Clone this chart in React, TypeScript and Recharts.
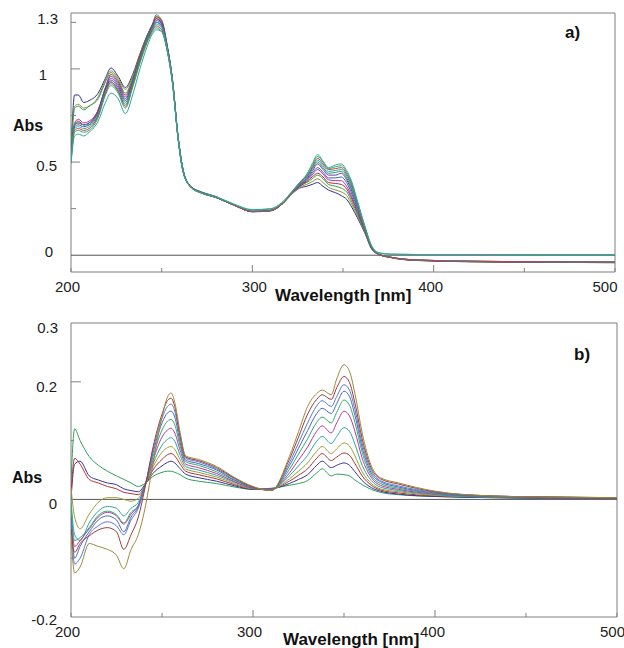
import React from 'react';
import { LineChart, Line, XAxis, YAxis, ReferenceLine, ReferenceArea } from 'recharts';

// ---------- Panel a) ----------
const wavelengthsA = [200, 202, 204, 207, 210, 215, 219, 222, 226, 230, 234, 238, 242, 245, 247, 250, 253, 256, 259, 262, 266, 272, 280, 290, 300, 310, 317, 322, 326, 330, 333, 336, 339, 342, 346, 349, 352, 355, 358, 362, 366, 370, 376, 390, 420, 460, 500];

const a1 = [0.55, 0.86, 0.86, 0.82, 0.83, 0.87, 0.95, 1.005, 0.96, 0.90, 0.97, 1.08, 1.18, 1.24, 1.27, 1.24, 1.12, 0.93, 0.63, 0.44, 0.37, 0.34, 0.315, 0.27, 0.233, 0.238, 0.28, 0.33, 0.36, 0.37, 0.38, 0.39, 0.37, 0.35, 0.335, 0.32, 0.3, 0.255, 0.2, 0.12, 0.03, 0.003, -0.012, -0.028, -0.035, -0.038, -0.04];
const a2 = [0.54, 0.80, 0.81, 0.79, 0.80, 0.85, 0.94, 0.99, 0.95, 0.89, 0.96, 1.08, 1.18, 1.24, 1.28, 1.25, 1.12, 0.93, 0.63, 0.44, 0.37, 0.338, 0.313, 0.27, 0.234, 0.238, 0.28, 0.33, 0.365, 0.38, 0.395, 0.41, 0.39, 0.365, 0.35, 0.34, 0.32, 0.27, 0.21, 0.125, 0.032, 0.004, -0.012, -0.028, -0.035, -0.038, -0.04];
const a3 = [0.53, 0.79, 0.80, 0.78, 0.80, 0.84, 0.93, 0.98, 0.94, 0.87, 0.95, 1.07, 1.18, 1.24, 1.29, 1.26, 1.13, 0.94, 0.64, 0.45, 0.37, 0.337, 0.312, 0.27, 0.234, 0.239, 0.28, 0.335, 0.37, 0.39, 0.41, 0.43, 0.41, 0.38, 0.37, 0.36, 0.34, 0.285, 0.22, 0.13, 0.034, 0.004, -0.011, -0.027, -0.034, -0.037, -0.039];
const a4 = [0.52, 0.70, 0.72, 0.70, 0.71, 0.78, 0.90, 0.97, 0.93, 0.86, 0.94, 1.07, 1.17, 1.24, 1.28, 1.26, 1.13, 0.94, 0.64, 0.45, 0.37, 0.336, 0.31, 0.268, 0.234, 0.24, 0.28, 0.335, 0.37, 0.395, 0.42, 0.44, 0.42, 0.39, 0.385, 0.38, 0.355, 0.3, 0.23, 0.133, 0.035, 0.004, -0.011, -0.027, -0.034, -0.037, -0.039];
const a5 = [0.53, 0.71, 0.73, 0.71, 0.72, 0.78, 0.90, 0.96, 0.92, 0.85, 0.93, 1.06, 1.17, 1.23, 1.27, 1.25, 1.12, 0.94, 0.64, 0.45, 0.368, 0.335, 0.31, 0.268, 0.235, 0.24, 0.28, 0.335, 0.375, 0.4, 0.43, 0.46, 0.435, 0.405, 0.4, 0.4, 0.37, 0.31, 0.24, 0.137, 0.036, 0.004, -0.011, -0.026, -0.033, -0.036, -0.038];
const a6 = [0.52, 0.70, 0.71, 0.70, 0.71, 0.77, 0.89, 0.95, 0.91, 0.84, 0.93, 1.06, 1.17, 1.23, 1.26, 1.24, 1.12, 0.93, 0.64, 0.45, 0.368, 0.335, 0.31, 0.268, 0.235, 0.24, 0.28, 0.34, 0.375, 0.405, 0.44, 0.47, 0.445, 0.415, 0.415, 0.42, 0.39, 0.325, 0.25, 0.14, 0.037, 0.005, -0.01, -0.026, -0.033, -0.036, -0.038];
const a7 = [0.51, 0.69, 0.70, 0.69, 0.70, 0.77, 0.89, 0.94, 0.90, 0.83, 0.92, 1.05, 1.16, 1.22, 1.25, 1.23, 1.11, 0.93, 0.64, 0.45, 0.367, 0.334, 0.31, 0.268, 0.235, 0.24, 0.28, 0.34, 0.38, 0.41, 0.45, 0.49, 0.46, 0.43, 0.43, 0.44, 0.405, 0.34, 0.26, 0.143, 0.038, 0.005, -0.01, -0.025, -0.032, -0.035, -0.037];
const a8 = [0.52, 0.70, 0.71, 0.70, 0.70, 0.76, 0.88, 0.93, 0.89, 0.82, 0.92, 1.05, 1.16, 1.22, 1.25, 1.23, 1.11, 0.93, 0.64, 0.45, 0.367, 0.334, 0.31, 0.268, 0.236, 0.241, 0.28, 0.34, 0.38, 0.415, 0.46, 0.50, 0.47, 0.44, 0.445, 0.45, 0.415, 0.35, 0.265, 0.145, 0.039, 0.005, -0.01, -0.025, -0.032, -0.035, -0.037];
const a9 = [0.51, 0.68, 0.69, 0.68, 0.69, 0.75, 0.87, 0.92, 0.88, 0.81, 0.91, 1.04, 1.15, 1.21, 1.24, 1.22, 1.11, 0.93, 0.64, 0.45, 0.366, 0.333, 0.31, 0.268, 0.236, 0.241, 0.28, 0.34, 0.385, 0.42, 0.465, 0.51, 0.48, 0.45, 0.455, 0.46, 0.425, 0.36, 0.27, 0.147, 0.04, 0.005, -0.01, -0.025, -0.032, -0.035, -0.037];
const a10 = [0.50, 0.67, 0.68, 0.67, 0.68, 0.75, 0.87, 0.93, 0.88, 0.80, 0.91, 1.04, 1.15, 1.21, 1.23, 1.21, 1.1, 0.92, 0.63, 0.44, 0.366, 0.333, 0.31, 0.268, 0.236, 0.242, 0.28, 0.34, 0.385, 0.425, 0.47, 0.52, 0.49, 0.46, 0.465, 0.47, 0.435, 0.37, 0.28, 0.15, 0.04, 0.005, -0.01, -0.025, -0.032, -0.035, -0.037];
const a11 = [0.50, 0.66, 0.67, 0.66, 0.67, 0.74, 0.86, 0.91, 0.87, 0.79, 0.90, 1.03, 1.14, 1.20, 1.22, 1.20, 1.1, 0.92, 0.63, 0.44, 0.366, 0.334, 0.312, 0.272, 0.243, 0.248, 0.285, 0.34, 0.39, 0.43, 0.48, 0.53, 0.50, 0.465, 0.475, 0.48, 0.445, 0.38, 0.285, 0.155, 0.045, 0.012, 0.006, 0.004, 0.004, 0.003, 0.003];
const a12 = [0.49, 0.64, 0.65, 0.64, 0.66, 0.72, 0.82, 0.87, 0.84, 0.76, 0.86, 1.0, 1.12, 1.19, 1.21, 1.20, 1.1, 0.92, 0.63, 0.44, 0.366, 0.335, 0.314, 0.274, 0.245, 0.25, 0.29, 0.345, 0.39, 0.435, 0.49, 0.54, 0.505, 0.47, 0.485, 0.49, 0.455, 0.39, 0.29, 0.16, 0.048, 0.013, 0.006, 0.004, 0.004, 0.003, 0.003];

const seriesA = [a1, a2, a3, a4, a5, a6, a7, a8, a9, a10, a11, a12];
const colorsA = ['#2e2e8c', '#8f8f2e', '#2a9d55', '#a83232', '#b0309e', '#3c5cc4', '#6b3aa0', '#2a9a7a', '#2aa9b0', '#c04040', '#33a860', '#33a3a3'];
const xTicksA = [200, 250, 300, 350, 400, 450, 500];
const xLabelsA = [200, 300, 400, 500];
const yTicksA = [0, 0.25, 0.5, 0.75, 1, 1.25, 1.3];
const yLabelsA = [0, 0.5, 1, 1.3];

// ---------- Panel b) ----------
const wavelengthsB = [200, 202, 205, 210, 215, 220, 225, 229, 233, 237, 241, 245, 250, 253, 255, 257, 260, 263, 270, 280, 290, 300, 310, 320, 325, 330, 335, 338, 343, 346, 350, 353, 356, 360, 365, 370, 380, 400, 430, 460, 500];

const b1 = [0.03, 0.12, 0.1, 0.073, 0.058, 0.048, 0.04, 0.034, 0.028, 0.022, 0.028, 0.039, 0.046, 0.048, 0.048, 0.046, 0.042, 0.036, 0.031, 0.027, 0.021, 0.017, 0.019, 0.024, 0.027, 0.032, 0.045, 0.052, 0.04, 0.043, 0.042, 0.04, 0.033, 0.025, 0.017, 0.012, 0.008, 0.005, 0.003, 0.002, 0.002];
const b2 = [0.0, 0.06, 0.065, 0.04, 0.033, 0.028, 0.025, 0.018, 0.015, 0.013, 0.027, 0.044, 0.057, 0.063, 0.065, 0.062, 0.052, 0.043, 0.037, 0.031, 0.023, 0.017, 0.018, 0.027, 0.034, 0.042, 0.058, 0.065, 0.054, 0.058, 0.062, 0.058, 0.047, 0.032, 0.02, 0.014, 0.009, 0.005, 0.003, 0.002, 0.002];
const b3 = [0.01, 0.07, 0.06, 0.034, 0.028, 0.022, 0.018, 0.012, 0.01, 0.008, 0.026, 0.05, 0.068, 0.076, 0.078, 0.074, 0.06, 0.048, 0.042, 0.035, 0.025, 0.018, 0.018, 0.031, 0.041, 0.052, 0.07, 0.078, 0.066, 0.072, 0.079, 0.075, 0.061, 0.04, 0.024, 0.016, 0.011, 0.006, 0.004, 0.003, 0.002];
const b4 = [0.02, -0.03, -0.05, -0.025, -0.005, 0.003, 0.003, 0.0, -0.003, 0.002, 0.026, 0.055, 0.08, 0.088, 0.09, 0.085, 0.067, 0.052, 0.046, 0.038, 0.027, 0.018, 0.017, 0.035, 0.048, 0.062, 0.082, 0.09, 0.078, 0.086, 0.096, 0.091, 0.074, 0.047, 0.027, 0.018, 0.013, 0.007, 0.004, 0.003, 0.003];
const b5 = [0.0, -0.06, -0.07, -0.04, -0.02, -0.012, -0.015, -0.028, -0.015, -0.005, 0.027, 0.06, 0.092, 0.102, 0.105, 0.099, 0.075, 0.056, 0.05, 0.041, 0.029, 0.019, 0.017, 0.04, 0.057, 0.075, 0.099, 0.107, 0.095, 0.107, 0.122, 0.116, 0.094, 0.058, 0.032, 0.021, 0.015, 0.008, 0.004, 0.003, 0.003];
const b6 = [-0.02, -0.08, -0.07, -0.05, -0.03, -0.022, -0.028, -0.042, -0.025, -0.01, 0.027, 0.066, 0.106, 0.118, 0.121, 0.113, 0.083, 0.06, 0.054, 0.044, 0.03, 0.019, 0.017, 0.045, 0.067, 0.089, 0.116, 0.125, 0.113, 0.13, 0.15, 0.142, 0.116, 0.07, 0.037, 0.024, 0.017, 0.009, 0.005, 0.003, 0.003];
const b7 = [-0.01, -0.07, -0.065, -0.048, -0.027, -0.02, -0.026, -0.04, -0.022, -0.01, 0.028, 0.072, 0.118, 0.133, 0.136, 0.127, 0.09, 0.064, 0.058, 0.047, 0.032, 0.02, 0.016, 0.051, 0.077, 0.103, 0.131, 0.14, 0.13, 0.148, 0.169, 0.16, 0.131, 0.08, 0.041, 0.027, 0.019, 0.01, 0.005, 0.004, 0.003];
const b8 = [-0.03, -0.1, -0.08, -0.055, -0.035, -0.028, -0.035, -0.055, -0.03, -0.012, 0.027, 0.078, 0.13, 0.147, 0.15, 0.14, 0.097, 0.067, 0.061, 0.05, 0.033, 0.02, 0.016, 0.057, 0.087, 0.117, 0.146, 0.155, 0.146, 0.163, 0.184, 0.175, 0.143, 0.088, 0.045, 0.03, 0.021, 0.011, 0.005, 0.004, 0.003];
const b9 = [-0.04, -0.11, -0.1, -0.06, -0.045, -0.038, -0.045, -0.06, -0.035, -0.015, 0.026, 0.083, 0.138, 0.158, 0.162, 0.15, 0.103, 0.07, 0.064, 0.052, 0.035, 0.021, 0.016, 0.062, 0.096, 0.13, 0.159, 0.168, 0.158, 0.175, 0.195, 0.186, 0.153, 0.095, 0.049, 0.032, 0.023, 0.012, 0.006, 0.004, 0.003];
const b10 = [-0.05, -0.09, -0.075, -0.062, -0.052, -0.048, -0.055, -0.085, -0.06, -0.03, 0.025, 0.088, 0.145, 0.168, 0.172, 0.158, 0.108, 0.072, 0.066, 0.054, 0.036, 0.021, 0.015, 0.068, 0.106, 0.145, 0.17, 0.178, 0.17, 0.19, 0.209, 0.199, 0.164, 0.103, 0.053, 0.035, 0.026, 0.013, 0.006, 0.004, 0.003];
const b11 = [-0.06, -0.125, -0.115, -0.075, -0.08, -0.085, -0.095, -0.118, -0.085, -0.06, -0.01, 0.06, 0.14, 0.174, 0.181, 0.165, 0.113, 0.074, 0.068, 0.056, 0.037, 0.022, 0.015, 0.073, 0.115, 0.158, 0.18, 0.186, 0.178, 0.205, 0.229, 0.218, 0.18, 0.113, 0.057, 0.037, 0.028, 0.014, 0.006, 0.004, 0.003];

const seriesB = [b1, b2, b3, b4, b5, b6, b7, b8, b9, b10, b11];
const colorsB = ['#2f9e5a', '#34349a', '#b03434', '#9e9e3a', '#2fa3a3', '#b8389e', '#33aa66', '#4a6ac0', '#5a7ad0', '#a03a3a', '#9a8a3a'];
const xTicksB = [200, 250, 300, 350, 400, 450, 500];
const xLabelsB = [200, 300, 400, 500];
const yTicksB = [-0.2, -0.1, 0, 0.1, 0.2, 0.3];
const yLabelsB = [-0.2, 0, 0.2, 0.3];

function buildRows(w: number[], series: number[][]) {
  return w.map((wl, i) => {
    const r: any = { w: wl };
    series.forEach((s, j) => {
      r['s' + j] = s[i] ?? null;
    });
    return r;
  });
}

const rowsA = buildRows(wavelengthsA, seriesA);
const rowsB = buildRows(wavelengthsB, seriesB);

const FONT = 'Liberation Sans, Arial, Helvetica, sans-serif';

function makeXTick(labels: number[], dx: Record<number, number>, labelDy: number, major: number[]) {
  return (props: any) => {
    const { x, y, payload } = props;
    const v = payload.value;
    const isLabel = labels.includes(v);
    const len = major.includes(v) ? 7 : 4;
    return (
      <g>
        <line x1={x} x2={x} y1={y} y2={y - len} stroke="#808080" strokeWidth={1} />
        {isLabel && (
          <text x={x + (dx[v] ?? 0)} y={y + labelDy} textAnchor="middle" fontSize={15} fill="#222" fontFamily={FONT}>
            {String(v)}
          </text>
        )}
      </g>
    );
  };
}

function makeYTick(labels: number[], endX: Record<string, number>, dy: Record<string, number>, tickLen: Record<string, number>) {
  return (props: any) => {
    const { x, y, payload } = props;
    const v = payload.value;
    const k = String(v);
    const len = tickLen[k] ?? 0;
    const isLabel = labels.includes(v);
    return (
      <g>
        {len > 0 && <line x1={x} x2={x + len} y1={y} y2={y} stroke="#808080" strokeWidth={1} />}
        {isLabel && (
          <text x={endX[k]} y={y + (dy[k] ?? 5)} textAnchor="end" fontSize={15} fill="#222" fontFamily={FONT}>
            {k}
          </text>
        )}
      </g>
    );
  };
}

const xTickA = makeXTick(xLabelsA, { 200: -3.5, 300: 2, 400: -3, 500: -10 }, 20, [300, 400]);
const yTickA = makeYTick(
  yLabelsA,
  { '0': 53, '0.5': 57, '1': 47, '1.3': 58 },
  { '0': 2, '0.5': 9, '1': 11, '1.3': 11 },
  { '0.25': 5, '0.5': 9, '0.75': 5, '1': 9, '1.25': 5 }
);
const xTickB = makeXTick(xLabelsB, { 200: -3.5, 300: -3.5, 400: -2.5, 500: -4.5 }, 20, [300, 400]);
const yTickB = makeYTick(
  yLabelsB,
  { '-0.2': 57, '0': 57, '0.2': 57, '0.3': 58 },
  { '-0.2': 8, '0': 10, '0.2': 10, '0.3': 10 },
  { '-0.1': 3, '0.1': 3, '0.2': 10 }
);

function Panel(props: {
  rows: any[];
  n: number;
  colors: string[];
  width: number;
  height: number;
  margin: any;
  xHeight: number;
  yDomain: [number, number];
  xTicks: number[];
  yTicks: number[];
  xTick: any;
  yTick: any;
}) {
  const { rows, n, colors, width, height, margin, xHeight, yDomain, xTicks, yTicks, xTick, yTick } = props;
  return (
    <LineChart width={width} height={height} data={rows} margin={margin}>
      <XAxis
        type="number"
        dataKey="w"
        domain={[200, 500]}
        ticks={xTicks}
        allowDataOverflow
        height={xHeight}
        axisLine={false}
        tickLine={false}
        tickSize={0}
        tickMargin={0}
        interval={0}
        tick={xTick}
      />
      <YAxis
        type="number"
        domain={yDomain}
        ticks={yTicks}
        allowDataOverflow
        width={60}
        axisLine={false}
        tickLine={false}
        tickSize={0}
        tickMargin={0}
        interval={0}
        tick={yTick}
      />
      <ReferenceLine y={0} stroke="#555" strokeWidth={1} />
      {Array.from({ length: n }).map((_, j) => (
        <Line
          key={j}
          type="monotone"
          dataKey={'s' + j}
          stroke={colors[j]}
          strokeWidth={1}
          dot={false}
          activeDot={false}
          isAnimationActive={false}
        />
      ))}
      <ReferenceArea
        x1={200}
        x2={500}
        y1={yDomain[0]}
        y2={yDomain[1]}
        fill="none"
        fillOpacity={0}
        stroke="#7f7f7f"
        strokeWidth={1}
        ifOverflow="visible"
      />
    </LineChart>
  );
}

export default function App() {
  return (
    <div style={{ position: 'absolute', left: 0, top: 0, width: 624, height: 648, background: '#fff', overflow: 'hidden' }}>
      <div style={{ position: 'absolute', left: 0, top: 0 }}>
        <Panel
          rows={rowsA}
          n={seriesA.length}
          colors={colorsA}
          width={624}
          height={300}
          margin={{ top: 13, right: 9, bottom: 0, left: 11 }}
          xHeight={28}
          yDomain={[-0.09, 1.3]}
          xTicks={xTicksA}
          yTicks={yTicksA}
          xTick={xTickA}
          yTick={yTickA}
        />
      </div>
      <div style={{ position: 'absolute', left: 0, top: 310 }}>
        <Panel
          rows={rowsB}
          n={seriesB.length}
          colors={colorsB}
          width={624}
          height={338}
          margin={{ top: 13, right: 7, bottom: 0, left: 11 }}
          xHeight={31}
          yDomain={[-0.2, 0.3]}
          xTicks={xTicksB}
          yTicks={yTicksB}
          xTick={xTickB}
          yTick={yTickB}
        />
      </div>
      <svg width={624} height={648} style={{ position: 'absolute', left: 0, top: 0, pointerEvents: 'none' }}>
        <g fontFamily={FONT} fontWeight="bold" fill="#111">
          <text x={28} y={131} fontSize={16} textAnchor="middle">Abs</text>
          <text x={27} y={483} fontSize={16} textAnchor="middle">Abs</text>
          <text x={275} y={301} fontSize={17}>Wavelength [nm]</text>
          <text x={283} y={645} fontSize={17}>Wavelength [nm]</text>
          <text x={565} y={38} fontSize={17}>a)</text>
          <text x={574} y={360} fontSize={17}>b)</text>
        </g>
      </svg>
    </div>
  );
}
